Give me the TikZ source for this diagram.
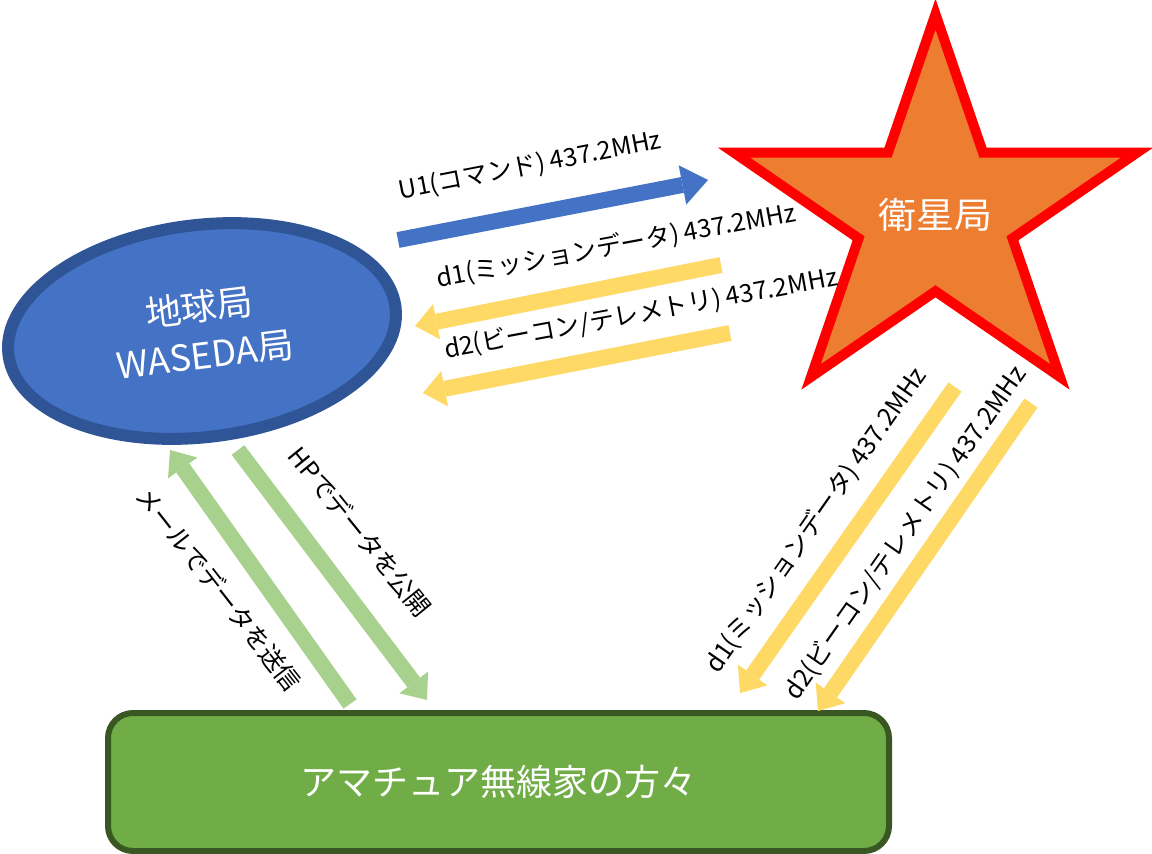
\documentclass[tikz,border=0pt]{standalone}
\usepackage{fontspec}
\setmainfont{Noto Sans CJK JP}
\usetikzlibrary{arrows.meta, shapes.geometric}
\definecolor{gsblue}{HTML}{4472C4}
\definecolor{gsedge}{HTML}{2F5597}
\definecolor{satorange}{HTML}{ED7D31}
\definecolor{hamgreen}{HTML}{70AD47}
\definecolor{hamedge}{HTML}{385723}
\definecolor{downyellow}{HTML}{FFD966}
\definecolor{sharegreen}{HTML}{A9D18E}
\tikzset{%
  station/.style={align=center, text=white, font=\fontsize{36}{48}\selectfont},
  link/.style={line width=16pt, -{Triangle[width=36pt, length=22pt, line width=0pt]}},
  uplink/.style={link, draw=gsblue, -{Triangle[width=40pt, length=26pt, line width=0pt]}},
  downlink/.style={link, draw=downyellow},
  share/.style={link, draw=sharegreen},
  freq/.style={font=\fontsize{25}{30}\selectfont, inner sep=0pt},
}

\begin{document}
\begin{tikzpicture}[x=1pt, y=-1pt]
  \useasboundingbox (0,0) rectangle (1152,854);

  \node[station, ellipse, draw=gsedge, fill=gsblue, line width=12pt, minimum width=390pt, minimum height=212pt, rotate=7] (gs) at (202,331) {地球局\\WASEDA局};
  \node[station, star, star points=5, star point ratio=2.618, minimum size=401pt, inner sep=0pt, xscale=1.056, draw=red, fill=satorange, line width=10pt] (sat) at (935.5,214.7) {衛星局};
  \node[station, rectangle, rounded corners=25pt, draw=hamedge, fill=hamgreen, line width=6pt, minimum width=781pt, minimum height=138pt] (ham) at (498.5,782) {アマチュア無線家の方々};

  % ends of the links
  \coordinate (u1s) at (398,240);
  \coordinate (u1e) at (708,180);
  \coordinate (d1s) at (721,265);
  \coordinate (d1e) at (415,326);
  \coordinate (d2s) at (730,333);
  \coordinate (d2e) at (423,393);
  \coordinate (rd1s) at (955,387);
  \coordinate (rd1e) at (740,693);
  \coordinate (rd2s) at (1031,403);
  \coordinate (rd2e) at (818,711);
  \coordinate (mails) at (350,704);
  \coordinate (maile) at (170,450);
  \coordinate (hps) at (238,450);
  \coordinate (hpe) at (427,700);

  \draw[uplink] (u1s) -- (u1e);
  \draw[downlink] (d1s) -- (d1e);
  \draw[downlink] (d2s) -- (d2e);
  \draw[downlink] (rd1s) -- (rd1e);
  \draw[downlink] (rd2s) -- (rd2e);
  \draw[share] (mails) -- (maile);
  \draw[share] (hps) -- (hpe);

  \node[freq, rotate=11] (u1lab) at (530,166) {U1(コマンド) 437.2MHz};
  \node[freq, rotate=10.5] (d1lab) at (616,246) {d1(ミッションデータ) 437.2MHz};
  \node[freq, rotate=10.5] (d2lab) at (641,314) {d2(ビーコン/テレメトリ) 437.2MHz};
  \node[freq, rotate=55] (rd1lab) at (816,520) {d1(ミッションデータ) 437.2MHz};
  \node[freq, rotate=55] (rd2lab) at (906,533) {d2(ビーコン/テレメトリ) 437.2MHz};
  \node[freq, rotate=-52] (maillab) at (219,589) {メールでデータを送信};
  \node[freq, rotate=-51] (hplab) at (360,532) {HPでデータを公開};
\end{tikzpicture}
\end{document}
